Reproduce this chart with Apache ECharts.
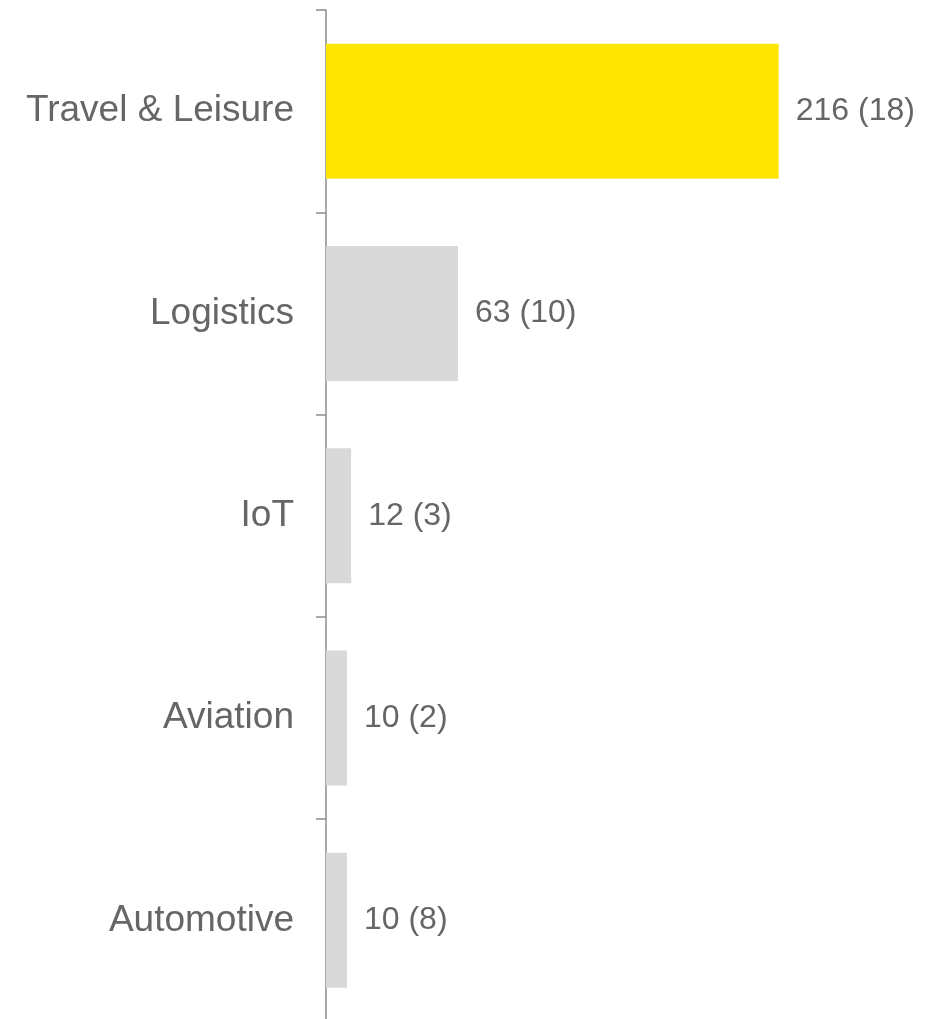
<!DOCTYPE html>
<html>
<head>
<meta charset="utf-8">
<script src="https://cdn.jsdelivr.net/npm/echarts@6/dist/echarts.min.js"></script>
<style>
  html, body { margin: 0; padding: 0; background: #fff; }
  #chart { width: 933px; height: 1019px; }
</style>
</head>
<body>
<div id="chart"></div>
<script>
// data
var categories = ['Travel & Leisure', 'Logistics', 'IoT', 'Aviation', 'Automotive']
var values = [216, 63, 12, 10, 10]
var counts = [18, 10, 3, 2, 8]

var chart = echarts.init(document.getElementById('chart'))
chart.setOption({
  backgroundColor: '#fff',
  animation: false,
  grid: {
    left: 326,
    right: 104,
    top: 10,
    // 底部刻度落在画布之外
    bottom: -2.5,
    outerBoundsMode: 'none',
    containLabel: false
  },
  xAxis: {
    type: 'value',
    min: 0,
    max: 240,
    show: false
  },
  yAxis: {
    type: 'category',
    inverse: true,
    data: categories,
    axisLine: {
      show: true,
      lineStyle: { color: '#8c8c8c', width: 1.5 }
    },
    axisTick: {
      show: true,
      length: 10,
      lineStyle: { color: '#8c8c8c', width: 1.5 }
    },
    axisLabel: {
      margin: 32,
      color: '#666666',
      fontSize: 37,
      fontFamily: 'Liberation Sans, Arial, sans-serif'
    }
  },
  series: [
    {
      type: 'bar',
      data: values,
      barWidth: 135,
      itemStyle: {
        // 第一条高亮为黄色
        color: function(p) {
          return p.dataIndex === 0 ? '#ffe600' : '#d9d9d9'
        }
      },
      label: {
        show: true,
        position: 'right',
        distance: 17,
        color: '#666666',
        fontSize: 32,
        fontFamily: 'Liberation Sans, Arial, sans-serif',
        formatter: function(p) {
          return p.value + ' (' + counts[p.dataIndex] + ')'
        }
      }
    }
  ]
})
</script>
</body>
</html>
